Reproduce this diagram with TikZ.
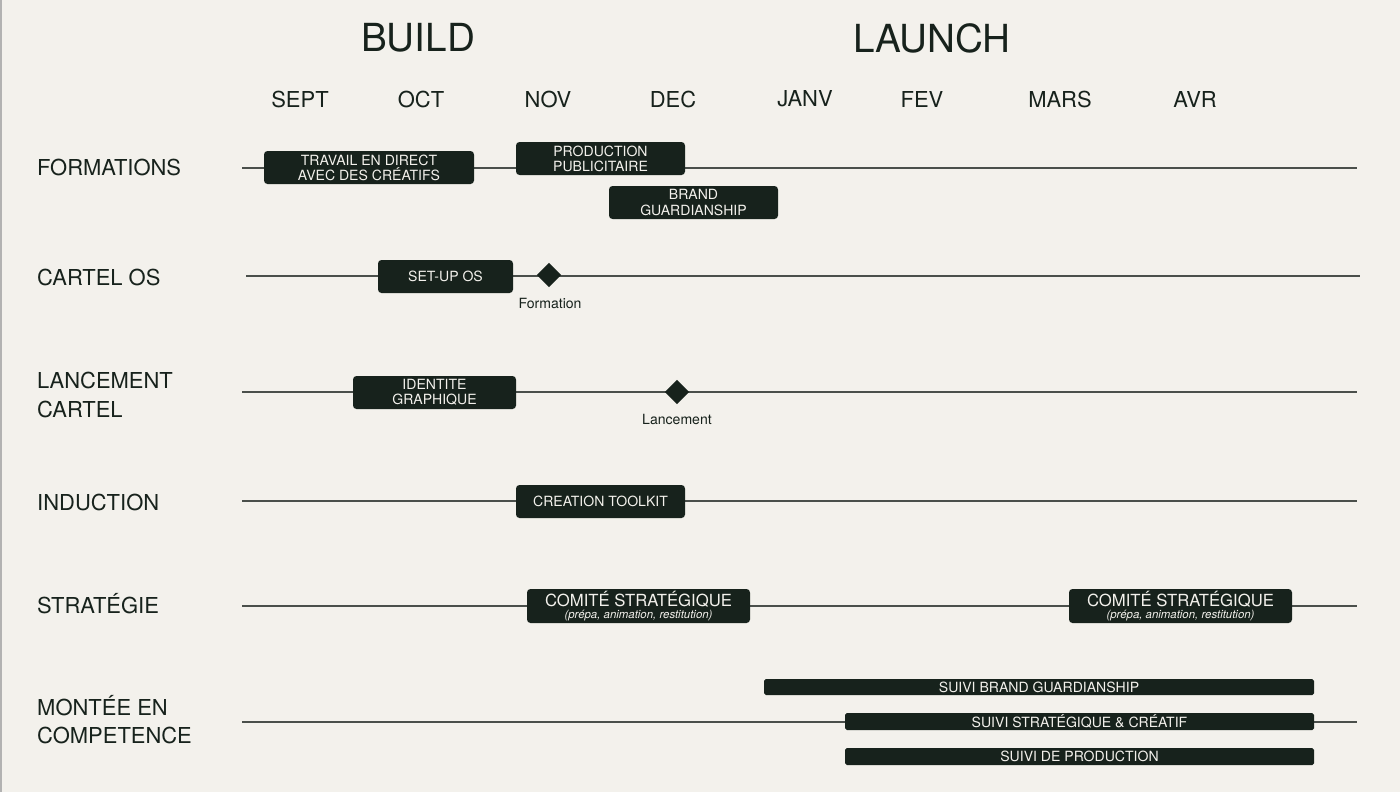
\documentclass[tikz,border=0pt]{standalone}
\usepackage{fontspec}
\setmainfont{TeX Gyre Heros}
\usetikzlibrary{shapes.geometric}
\definecolor{bg}{HTML}{F3F1EC}
\definecolor{dk}{HTML}{17221C}
\definecolor{ln}{HTML}{4A4F4B}
\begin{document}
\begin{tikzpicture}[x=0.02cm,y=-0.02cm,
  bar/.style={fill=dk,rounded corners=2pt,draw=none},
  btxt/.style={text=bg,font=\fontsize{8}{8.6}\selectfont,align=center,inner sep=0},
  track/.style={draw=ln,line width=0.6pt},
  mon/.style={font=\fontsize{12.5}{13}\selectfont,text=dk},
  row/.style={font=\fontsize{12.5}{16}\selectfont,text=dk,anchor=west,align=left},
  big/.style={font=\fontsize{22}{24}\selectfont,text=dk},
  dia/.style={diamond,fill=dk,minimum size=14pt,inner sep=0},
  small/.style={font=\fontsize{8}{9}\selectfont,text=dk}]
\fill[bg] (0,0) rectangle (1400,792);
\useasboundingbox (0,0) rectangle (1400,792);
\draw[gray!60,line width=0.8pt] (1,0) -- (1,792);
\node[big] (build) at (418,38) {BUILD};
\node[big] (launch) at (932,38) {LAUNCH};
\foreach \n/\x/\t in {m1/300/SEPT,m2/421/OCT,m3/548/NOV,m4/673/DEC,m5/805/JANV,m6/922/FEV,m7/1060/MARS,m8/1195/AVR}
  \node[mon] (\n) at (\x,99) {\t};
\node[row] (r1) at (31,167) {FORMATIONS};
\node[row] (r2) at (31,277) {CARTEL OS};
\node[row] (r3) at (31,395) {LANCEMENT\\CARTEL};
\node[row] (r4) at (31,502) {INDUCTION};
\node[row] (r5) at (31,604) {STRATÉGIE};
\node[row] (r6) at (31,720) {MONTÉE EN\\COMPETENCE};
% tracks
\coordinate (a1) at (242,168); \coordinate (b1) at (1357,168);
\coordinate (a2) at (246,276); \coordinate (b2) at (1360,276);
\coordinate (a3) at (242,392); \coordinate (b3) at (1357,392);
\coordinate (a4) at (242,501); \coordinate (b4) at (1357,501);
\coordinate (a5) at (242,606); \coordinate (b5) at (1357,606);
\coordinate (a6) at (242,722); \coordinate (b6) at (1357,722);
\foreach \i in {1,...,6} \draw[track] (a\i) -- (b\i);
% boxes
\draw[bar] (264,151) rectangle (474,184);
\node[btxt] (t1) at (369,167.5) {TRAVAIL EN DIRECT\\AVEC DES CRÉATIFS};
\draw[bar] (516,142) rectangle (685,175);
\node[btxt] (t2) at (600.5,158.5) {PRODUCTION\\PUBLICITAIRE};
\draw[bar] (609,186) rectangle (778,219);
\node[btxt] (t3) at (693.5,202.5) {BRAND\\GUARDIANSHIP};
\draw[bar] (378,260) rectangle (513,293);
\node[btxt] (t4) at (445.5,276.5) {SET-UP OS};
\node[dia] (d1) at (549,275) {};
\node[small] (l1) at (550,303) {Formation};
\draw[bar] (353,376) rectangle (516,409);
\node[btxt] (t5) at (434.5,392.5) {IDENTITE\\GRAPHIQUE};
\node[dia] (d2) at (677,392) {};
\node[small] (l2) at (677,419) {Lancement};
\draw[bar] (516,485) rectangle (685,518);
\node[btxt] (t6) at (600.5,501.5) {CREATION TOOLKIT};
\foreach \x/\n in {527/c1,1069/c2}{
  \draw[bar] (\x,589) rectangle (\x+223,623);
  \node[btxt,font=\fontsize{9.5}{10}\selectfont] (\n) at (\x+111.5,599) {COMITÉ STRATÉGIQUE};
  \node[btxt,font=\fontsize{6.5}{7}\itshape] (\n s) at (\x+111.5,616) {(prépa, animation, restitution)};
}
\draw[bar,rounded corners=1pt] (764,679) rectangle (1314,695);
\node[btxt] (s1) at (1039,687) {SUIVI BRAND GUARDIANSHIP};
\draw[bar,rounded corners=1pt] (845,713) rectangle (1314,730);
\node[btxt] (s2) at (1079.5,721.5) {SUIVI STRATÉGIQUE \& CRÉATIF};
\draw[bar,rounded corners=1pt] (845,748) rectangle (1314,765);
\node[btxt] (s3) at (1079.5,756.5) {SUIVI DE PRODUCTION};
\end{tikzpicture}
\end{document}
